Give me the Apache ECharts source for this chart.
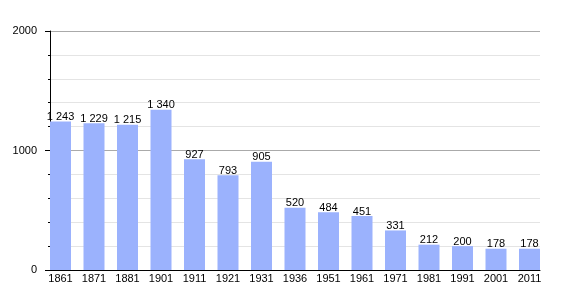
<!DOCTYPE html>
<html><head><meta charset="utf-8">
<script src="https://cdn.jsdelivr.net/npm/echarts@6/dist/echarts.min.js"></script>
<style>html,body{margin:0;padding:0;background:#fff}#c{width:570px;height:300px}</style>
</head><body><div id="c"></div>
<script>
const categories = ['1861','1871','1881','1901','1911','1921','1931','1936','1951','1961','1971','1981','1991','2001','2011'];
const population = [1243,1229,1215,1340,927,793,905,520,484,451,331,212,200,178,178];
const yTicks = { min: 0, max: 2000, interval: 1000 };

const fmt = v => String(v).replace(/\B(?=(\d{3})+(?!\d))/g, ' ');
const font = 'Liberation Sans, Arial, sans-serif';
const chart = echarts.init(document.getElementById('c'));
chart.setOption({
  animation: false,
  grid: [
    { left: 50, right: 30, top: 31, bottom: 30 },
    { left: 43.75, right: 23.75, top: 31, bottom: 30 }
  ],
  xAxis: [
    { gridIndex: 0, type: 'value', min: 0, max: 1, show: true,
      axisLine: { show: true, lineStyle: { color: '#000', width: 1 } },
      axisTick: { show: false }, axisLabel: { show: false }, splitLine: { show: false } },
    { gridIndex: 1, type: 'category', data: categories,
      axisLine: { show: false }, axisTick: { show: false }, splitLine: { show: false },
      axisLabel: { color: '#000', fontSize: 11, fontFamily: font, margin: 3, interval: 0 } }
  ],
  yAxis: [
    { gridIndex: 0, type: 'value', min: yTicks.min, max: yTicks.max, interval: yTicks.interval,
      axisLine: { show: true, lineStyle: { color: '#000', width: 1 } },
      axisTick: { show: true, length: 5, lineStyle: { color: '#000' } },
      minorTick: { show: true, splitNumber: 5, length: 2, lineStyle: { color: '#000' } },
      splitLine: { show: true, lineStyle: { color: '#aaa', width: 1 } },
      minorSplitLine: { show: true, lineStyle: { color: '#e4e4e4', width: 1 } },
      axisLabel: { color: '#000', fontSize: 11, fontFamily: font, margin: 13, formatter: v => String(v) } },
    { gridIndex: 1, type: 'value', min: yTicks.min, max: yTicks.max, show: false,
      splitLine: { show: false } }
  ],
  series: [{
    type: 'bar', xAxisIndex: 1, yAxisIndex: 1, data: population, barWidth: 21,
    itemStyle: { color: '#9bb2fd' },
    label: { show: true, position: 'top', distance: -1, color: '#000', fontSize: 11,
      fontFamily: font, formatter: p => fmt(p.value) }
  }]
});
</script></body></html>
